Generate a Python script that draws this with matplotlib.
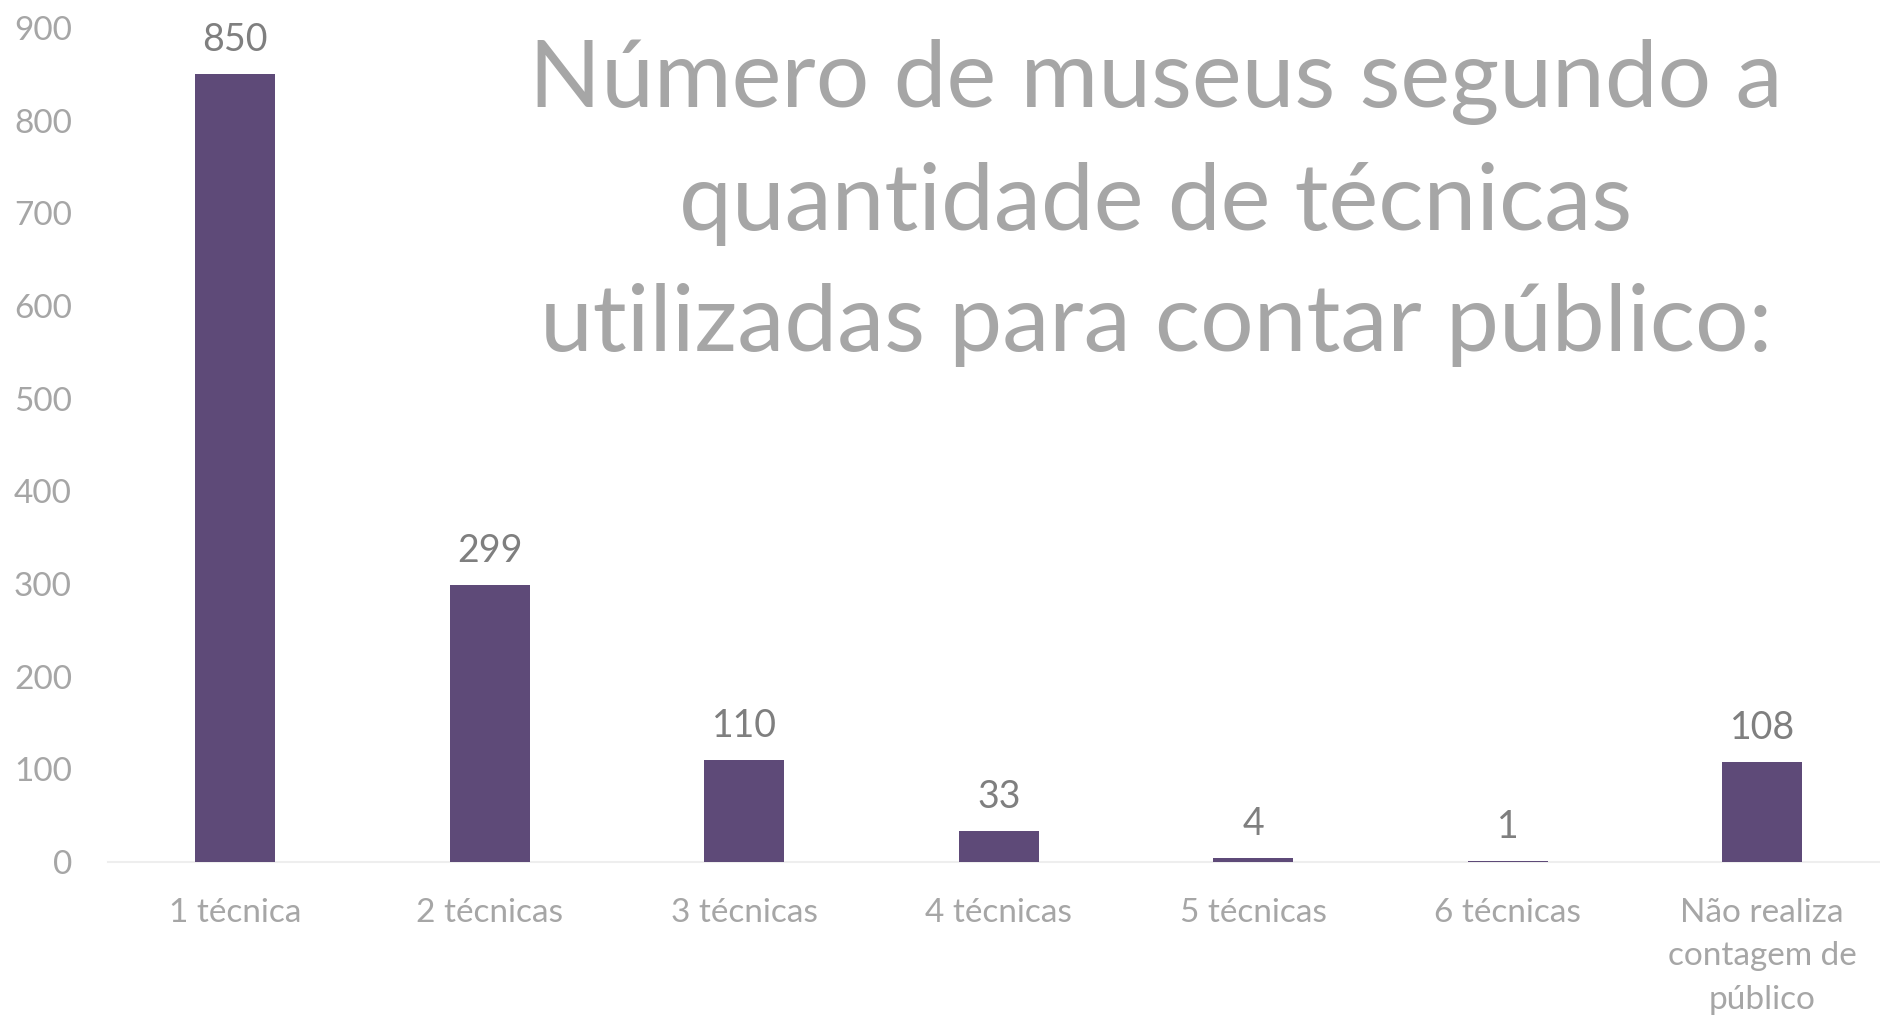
import numpy as np
import matplotlib
matplotlib.use("Agg")
import matplotlib.pyplot as plt

plt.rcParams['font.family'] = ['Lato', 'DejaVu Sans']

categorias = ["1 técnica", "2 técnicas", "3 técnicas", "4 técnicas",
              "5 técnicas", "6 técnicas", "Não realiza\ncontagem de\npúblico"]
museus = [850, 299, 110, 33, 4, 1, 108]
yticks = [0, 100, 200, 300, 400, 500, 600, 700, 800, 900]
titulo = "Número de museus segundo a\nquantidade de técnicas\nutilizadas para contar público:"

cor_barra = '#5e4a78'
cinza = '#a6a6a6'
cinza_escuro = '#7f7f7f'

fig = plt.figure(figsize=(18.8, 10.18), dpi=100)
ax = fig.add_axes([108/1880, 1 - 862/1018, 1781.5/1880, (862 - 28)/1018])

x = np.arange(len(categorias))
ax.bar(x, museus, width=0.314, color=cor_barra, zorder=2)

for xi, v in zip(x, museus):
    ax.annotate(str(v), (xi, v), xytext=(0, 11.5), textcoords='offset points',
                ha='center', va='bottom', fontsize=27, color=cinza_escuro)

ax.set_xlim(-0.5, 6.5)
ax.set_ylim(0, 900)
ax.set_yticks(yticks)
ax.set_xticks(x)
ax.set_xticklabels(categorias, linespacing=1.55)
ax.tick_params(axis='both', length=0, labelsize=24, labelcolor=cinza)
ax.tick_params(axis='y', pad=26)
ax.tick_params(axis='x', pad=26)
for lbl in ax.get_xticklabels():
    lbl.set_verticalalignment('top')

for s in ['top', 'right', 'left']:
    ax.spines[s].set_visible(False)
ax.spines['bottom'].set_color('#eeeeee')
ax.spines['bottom'].set_linewidth(1.5)
ax.spines['bottom'].set_zorder(1)

fig.text(1156/1880, 1 - 203/1018, titulo, ha='center', va='center',
         fontsize=68, color=cinza, linespacing=1.54)

fig.savefig("out.png", dpi=100)
